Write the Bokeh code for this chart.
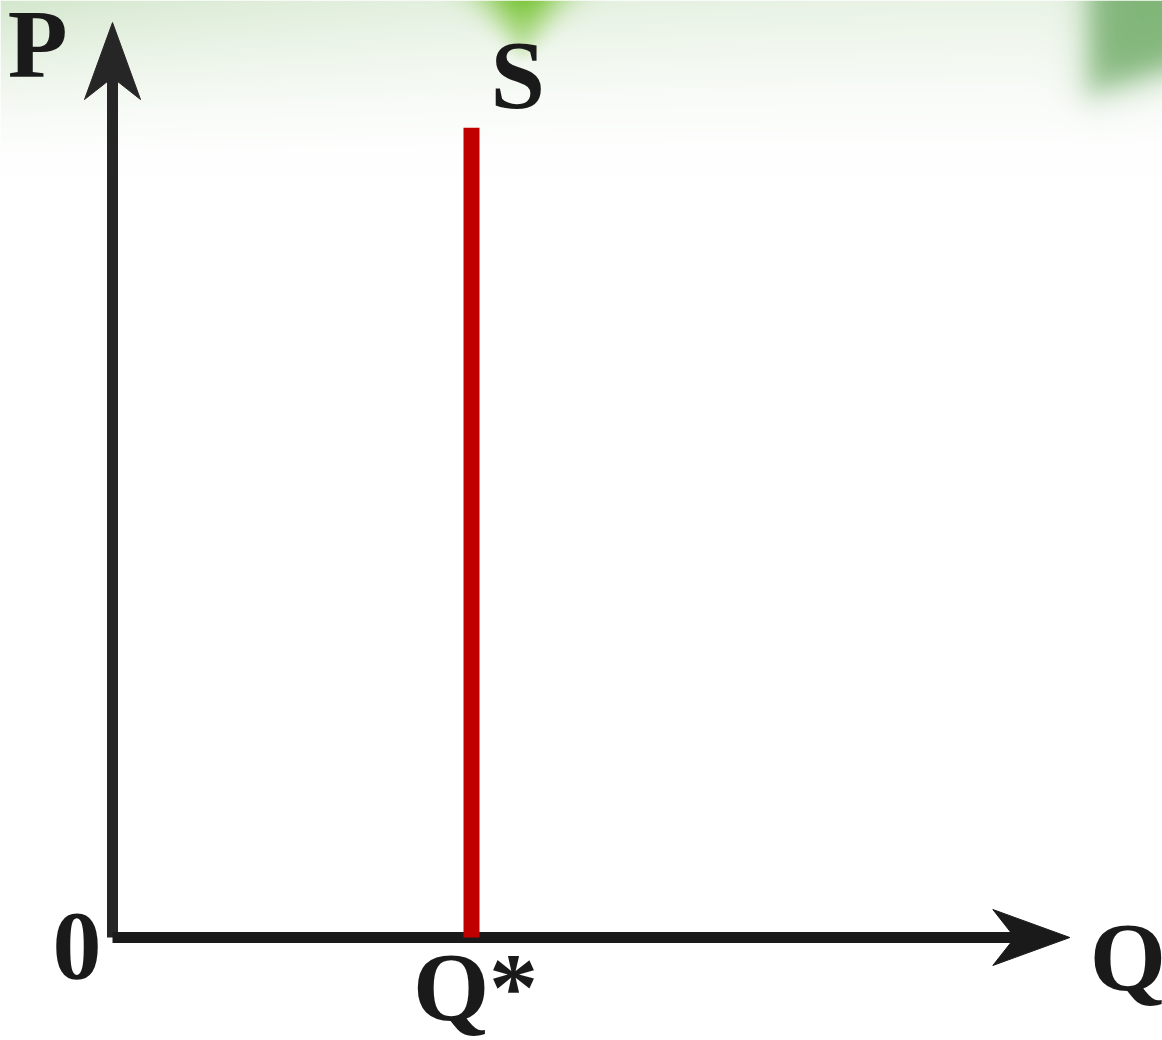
import numpy as np
from bokeh.plotting import figure
from bokeh.models import Range1d
from bokeh.core.properties import value
from bokeh.embed import file_html
from bokeh.resources import INLINE

# ---------------- data (schematic supply diagram) ----------------
q_star = 3.0          # fixed quantity supplied
q_axis_end = 8.0      # end of the quantity axis
p_axis_end = 10.0     # end of the price axis
s_top = 8.85          # top of the vertical supply curve
label_p = "P"
label_q = "Q"
label_origin = "0"
label_qstar = "Q*"
label_s = "S"

# ---------------- layout (pixels) ----------------
W, H = 1162, 1040
ORIGIN_X_PX, ORIGIN_Y_PX = 112, 937      # origin inside the frame (from left / from top)
KX = 359.0 / q_star                      # px per quantity unit
KY = 915.0 / p_axis_end                  # px per price unit

x_start = -ORIGIN_X_PX / KX
x_end = (W - ORIGIN_X_PX) / KX
y_start = -(H - ORIGIN_Y_PX) / KY
y_end = ORIGIN_Y_PX / KY

def dx(px):
    return px / KX

def dy(px):
    return px / KY

p = figure(width=W, height=H, output_backend="svg", toolbar_location=None,
           x_range=Range1d(x_start, x_end), y_range=Range1d(y_start, y_end),
           min_border=0, x_axis_location=None, y_axis_location=None,
           background_fill_color="white", border_fill_color="white")
p.outline_line_color = None
p.grid.visible = False

# ---------------- decorative top band ----------------
BAND_ROWS = 175
sx = np.arange(W) + 0.5
sy = np.arange(BAND_ROWS) + 0.5
X, Y = np.meshgrid(sx, sy)
t = Y / 175.0
strength = (1 - t) ** 1.6 * (0.45 + 0.55 * np.exp(-X / 420.0))
tint = np.array([212, 231, 205], dtype=float)
white = np.array([255, 255, 255], dtype=float)
col = white + (tint - white) * strength[..., None]
col[-3:, :, :] = col[-3:, :, :] * 0.985 + 3  # faint lower edge of the band

def sig(z):
    return 1.0 / (1.0 + np.exp(-z))

# bright green cone near the top centre
width1 = np.clip(42 * (1 - Y / 75.0), 3, None)
a1 = 0.95 * np.exp(-((X - 522) / width1) ** 2) * np.clip(1 - Y / 62.0, 0, 1) ** 0.9
c1 = np.array([124, 198, 58], dtype=float)
col = col * (1 - a1[..., None]) + c1 * a1[..., None]
# darker green leaf at top right
a2 = 0.97 * sig((X - 1088) / 9.0) * sig((96 - Y - (X - 1080) * 0.3) / 10.0)
c2 = np.array([126, 180, 118], dtype=float)
col = col * (1 - a2[..., None]) + c2 * a2[..., None]

rgba = np.zeros((BAND_ROWS, W, 4), dtype=np.uint8)
rgba[..., :3] = np.clip(col, 0, 255).astype(np.uint8)
rgba[..., 3] = 255
img = np.flipud(rgba).copy().view(dtype=np.uint32).reshape((BAND_ROWS, W))
band_bottom = (ORIGIN_Y_PX - BAND_ROWS) / KY
p.image_rgba(image=[img], x=x_start, y=band_bottom, dw=x_end - x_start, dh=y_end - band_bottom)

# ---------------- axes ----------------
AX_W = 11
HEAD_LEN, HEAD_NOTCH, HEAD_HALF = 77, 55, 28
p.line(x=[0, 0], y=[0, p_axis_end - dy(HEAD_NOTCH) + dy(2)], line_width=AX_W, line_color="#262626")
p.patch(x=[0, -dx(HEAD_HALF), 0, dx(HEAD_HALF)],
        y=[p_axis_end, p_axis_end - dy(HEAD_LEN), p_axis_end - dy(HEAD_NOTCH), p_axis_end - dy(HEAD_LEN)],
        fill_color="#262626", line_color="#262626", line_width=1)
p.line(x=[0, q_axis_end - dx(HEAD_NOTCH) + dx(2)], y=[0, 0], line_width=AX_W, line_color="#1a1a1a")
p.patch(x=[q_axis_end, q_axis_end - dx(HEAD_LEN), q_axis_end - dx(HEAD_NOTCH), q_axis_end - dx(HEAD_LEN)],
        y=[0, dy(HEAD_HALF), 0, -dy(HEAD_HALF)],
        fill_color="#1a1a1a", line_color="#1a1a1a", line_width=1)

# ---------------- supply curve ----------------
p.line(x=[q_star, q_star], y=[0, s_top], line_width=16, line_color="#c00000")

# ---------------- labels ----------------
font = dict(text_font=value("Liberation Serif"), text_font_style="bold",
            text_font_size="98px", text_color="#1a1a1a", text_baseline="alphabetic")
SHIFT = -34
p.text(x=[0], y=[p_axis_end], text=[label_p], x_offset=-45, y_offset=55 + SHIFT, text_align="right", **font)
p.text(x=[q_star], y=[s_top], text=[label_s], x_offset=19, y_offset=-19 + SHIFT, text_align="left", **font)
p.text(x=[0], y=[0], text=[label_origin], x_offset=-11, y_offset=42 + SHIFT, text_align="right", **font)
p.text(x=[q_star], y=[0], text=[label_qstar], x_offset=4, y_offset=83 + SHIFT, text_align="center", **font)
p.text(x=[q_axis_end], y=[0], text=[label_q], x_offset=20, y_offset=53 + SHIFT, text_align="left", **font)

open("out.html", "w").write(file_html(p, INLINE))
